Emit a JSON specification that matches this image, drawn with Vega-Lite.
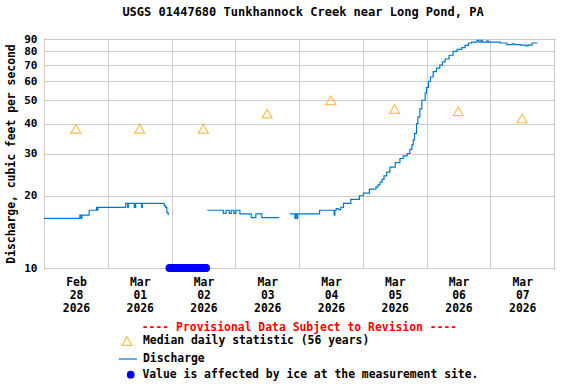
{
  "$schema": "https://vega.github.io/schema/vega-lite/v6.json",
  "width": 510,
  "height": 229,
  "autosize": {"type": "none"},
  "padding": {"left": 44, "top": 39, "right": 22, "bottom": 116},
  "background": "white",
  "title": {
    "text": "USGS 01447680 Tunkhannock Creek near Long Pond, PA",
    "font": "DejaVu Sans Mono",
    "fontSize": 12,
    "fontWeight": "bold",
    "color": "black",
    "anchor": "middle",
    "frame": "group",
    "offset": 14,
    "dx": 4
  },
  "config": {
    "view": {"stroke": "black", "strokeWidth": 1},
    "axis": {
      "labelFont": "DejaVu Sans Mono",
      "labelFontWeight": "bold",
      "labelFontSize": 11.4,
      "labelColor": "black",
      "titleFont": "DejaVu Sans Mono",
      "titleFontWeight": "bold",
      "titleFontSize": 11.4,
      "titleColor": "black",
      "gridColor": "#cccccc",
      "gridWidth": 1,
      "gridOpacity": 1,
      "domain": false,
      "ticks": false
    },
    "legend": {
      "labelFont": "DejaVu Sans Mono",
      "labelFontWeight": "bold",
      "labelFontSize": 11.4,
      "labelColor": "black",
      "labelLimit": 600,
      "padding": 0
    }
  },
  "datasets": {
    "median": [
      {"t": "2026-02-28T12:00", "v": 38},
      {"t": "2026-03-01T12:00", "v": 38},
      {"t": "2026-03-02T12:00", "v": 38},
      {"t": "2026-03-03T12:00", "v": 44},
      {"t": "2026-03-04T12:00", "v": 50},
      {"t": "2026-03-05T12:00", "v": 46},
      {"t": "2026-03-06T12:00", "v": 45},
      {"t": "2026-03-07T12:00", "v": 42}
    ],
    "discharge": [
      {"seg": "a", "t": "2026-02-28T00:00", "v": 16.1},
      {"seg": "a", "t": "2026-02-28T13:30", "v": 16.6},
      {"seg": "a", "t": "2026-02-28T14:00", "v": 16.1},
      {"seg": "a", "t": "2026-02-28T14:15", "v": 16.6},
      {"seg": "a", "t": "2026-02-28T17:00", "v": 17.4},
      {"seg": "a", "t": "2026-02-28T19:45", "v": 17.9},
      {"seg": "a", "t": "2026-02-28T20:00", "v": 17.4},
      {"seg": "a", "t": "2026-02-28T20:15", "v": 17.9},
      {"seg": "a", "t": "2026-03-01T06:45", "v": 18.6},
      {"seg": "a", "t": "2026-03-01T07:30", "v": 17.9},
      {"seg": "a", "t": "2026-03-01T07:45", "v": 18.6},
      {"seg": "a", "t": "2026-03-01T10:00", "v": 17.9},
      {"seg": "a", "t": "2026-03-01T10:30", "v": 18.6},
      {"seg": "a", "t": "2026-03-01T12:45", "v": 17.9},
      {"seg": "a", "t": "2026-03-01T13:00", "v": 18.6},
      {"seg": "a", "t": "2026-03-01T21:15", "v": 18.2},
      {"seg": "a", "t": "2026-03-01T21:45", "v": 17.9},
      {"seg": "a", "t": "2026-03-01T22:15", "v": 17.0},
      {"seg": "a", "t": "2026-03-01T22:45", "v": 16.6},
      {"seg": "b", "t": "2026-03-02T13:30", "v": 17.4},
      {"seg": "b", "t": "2026-03-02T19:30", "v": 16.9},
      {"seg": "b", "t": "2026-03-02T20:30", "v": 17.4},
      {"seg": "b", "t": "2026-03-02T21:45", "v": 16.9},
      {"seg": "b", "t": "2026-03-02T22:30", "v": 17.4},
      {"seg": "b", "t": "2026-03-02T23:30", "v": 16.9},
      {"seg": "b", "t": "2026-03-03T00:15", "v": 17.4},
      {"seg": "b", "t": "2026-03-03T01:45", "v": 16.8},
      {"seg": "b", "t": "2026-03-03T06:00", "v": 16.2},
      {"seg": "b", "t": "2026-03-03T07:45", "v": 16.8},
      {"seg": "b", "t": "2026-03-03T10:00", "v": 16.2},
      {"seg": "b", "t": "2026-03-03T16:30", "v": 16.2},
      {"seg": "c", "t": "2026-03-03T20:30", "v": 16.8},
      {"seg": "c", "t": "2026-03-03T22:30", "v": 16.1},
      {"seg": "c", "t": "2026-03-03T22:45", "v": 16.8},
      {"seg": "c", "t": "2026-03-03T23:15", "v": 16.1},
      {"seg": "c", "t": "2026-03-03T23:30", "v": 16.8},
      {"seg": "c", "t": "2026-03-04T07:45", "v": 17.4},
      {"seg": "c", "t": "2026-03-04T13:15", "v": 16.6},
      {"seg": "c", "t": "2026-03-04T13:30", "v": 17.4},
      {"seg": "c", "t": "2026-03-04T14:00", "v": 17.7},
      {"seg": "c", "t": "2026-03-04T14:45", "v": 17.5},
      {"seg": "c", "t": "2026-03-04T15:45", "v": 17.9},
      {"seg": "c", "t": "2026-03-04T16:45", "v": 18.6},
      {"seg": "c", "t": "2026-03-04T19:30", "v": 19.3},
      {"seg": "c", "t": "2026-03-04T22:45", "v": 20.0},
      {"seg": "c", "t": "2026-03-05T00:15", "v": 20.5},
      {"seg": "c", "t": "2026-03-05T02:30", "v": 21.3},
      {"seg": "c", "t": "2026-03-05T05:00", "v": 21.8},
      {"seg": "c", "t": "2026-03-05T05:45", "v": 22.2},
      {"seg": "c", "t": "2026-03-05T06:30", "v": 22.8},
      {"seg": "c", "t": "2026-03-05T07:15", "v": 23.4},
      {"seg": "c", "t": "2026-03-05T08:00", "v": 24.2},
      {"seg": "c", "t": "2026-03-05T09:00", "v": 25.1},
      {"seg": "c", "t": "2026-03-05T10:15", "v": 26.3},
      {"seg": "c", "t": "2026-03-05T12:15", "v": 27.5},
      {"seg": "c", "t": "2026-03-05T14:00", "v": 28.6},
      {"seg": "c", "t": "2026-03-05T15:15", "v": 29.3},
      {"seg": "c", "t": "2026-03-05T16:45", "v": 30.0},
      {"seg": "c", "t": "2026-03-05T17:45", "v": 31.2},
      {"seg": "c", "t": "2026-03-05T18:30", "v": 32.6},
      {"seg": "c", "t": "2026-03-05T19:00", "v": 34.2},
      {"seg": "c", "t": "2026-03-05T19:30", "v": 36.4},
      {"seg": "c", "t": "2026-03-05T20:15", "v": 40.0},
      {"seg": "c", "t": "2026-03-05T20:45", "v": 42.6},
      {"seg": "c", "t": "2026-03-05T21:30", "v": 46.0},
      {"seg": "c", "t": "2026-03-05T22:15", "v": 50.0},
      {"seg": "c", "t": "2026-03-05T23:30", "v": 53.5},
      {"seg": "c", "t": "2026-03-06T00:00", "v": 56.5},
      {"seg": "c", "t": "2026-03-06T00:45", "v": 60.0},
      {"seg": "c", "t": "2026-03-06T01:30", "v": 62.5},
      {"seg": "c", "t": "2026-03-06T02:30", "v": 65.8},
      {"seg": "c", "t": "2026-03-06T03:45", "v": 68.0},
      {"seg": "c", "t": "2026-03-06T05:00", "v": 70.0},
      {"seg": "c", "t": "2026-03-06T06:00", "v": 72.3},
      {"seg": "c", "t": "2026-03-06T07:00", "v": 74.3},
      {"seg": "c", "t": "2026-03-06T08:30", "v": 77.0},
      {"seg": "c", "t": "2026-03-06T10:00", "v": 80.0},
      {"seg": "c", "t": "2026-03-06T11:30", "v": 81.5},
      {"seg": "c", "t": "2026-03-06T13:15", "v": 82.8},
      {"seg": "c", "t": "2026-03-06T14:30", "v": 84.6},
      {"seg": "c", "t": "2026-03-06T15:45", "v": 86.6},
      {"seg": "c", "t": "2026-03-06T17:00", "v": 87.3},
      {"seg": "c", "t": "2026-03-06T19:00", "v": 88.8},
      {"seg": "c", "t": "2026-03-06T19:45", "v": 87.3},
      {"seg": "c", "t": "2026-03-06T20:30", "v": 88.8},
      {"seg": "c", "t": "2026-03-06T21:00", "v": 87.3},
      {"seg": "c", "t": "2026-03-06T22:45", "v": 88.5},
      {"seg": "c", "t": "2026-03-06T23:15", "v": 87.3},
      {"seg": "c", "t": "2026-03-07T03:45", "v": 86.6},
      {"seg": "c", "t": "2026-03-07T06:15", "v": 85.2},
      {"seg": "c", "t": "2026-03-07T08:15", "v": 85.9},
      {"seg": "c", "t": "2026-03-07T09:00", "v": 85.2},
      {"seg": "c", "t": "2026-03-07T11:15", "v": 84.9},
      {"seg": "c", "t": "2026-03-07T13:30", "v": 84.3},
      {"seg": "c", "t": "2026-03-07T14:15", "v": 84.9},
      {"seg": "c", "t": "2026-03-07T15:45", "v": 86.6},
      {"seg": "c", "t": "2026-03-07T17:45", "v": 86.6}
    ],
    "ice": [
      {"t": "2026-03-01T23:15", "v": 10},
      {"t": "2026-03-01T23:45", "v": 10},
      {"t": "2026-03-02T00:15", "v": 10},
      {"t": "2026-03-02T00:45", "v": 10},
      {"t": "2026-03-02T01:15", "v": 10},
      {"t": "2026-03-02T01:45", "v": 10},
      {"t": "2026-03-02T02:15", "v": 10},
      {"t": "2026-03-02T02:45", "v": 10},
      {"t": "2026-03-02T03:15", "v": 10},
      {"t": "2026-03-02T03:45", "v": 10},
      {"t": "2026-03-02T04:15", "v": 10},
      {"t": "2026-03-02T04:45", "v": 10},
      {"t": "2026-03-02T05:15", "v": 10},
      {"t": "2026-03-02T05:45", "v": 10},
      {"t": "2026-03-02T06:15", "v": 10},
      {"t": "2026-03-02T06:45", "v": 10},
      {"t": "2026-03-02T07:15", "v": 10},
      {"t": "2026-03-02T07:45", "v": 10},
      {"t": "2026-03-02T08:15", "v": 10},
      {"t": "2026-03-02T08:45", "v": 10},
      {"t": "2026-03-02T09:15", "v": 10},
      {"t": "2026-03-02T09:45", "v": 10},
      {"t": "2026-03-02T10:15", "v": 10},
      {"t": "2026-03-02T10:45", "v": 10},
      {"t": "2026-03-02T11:15", "v": 10},
      {"t": "2026-03-02T11:45", "v": 10},
      {"t": "2026-03-02T12:15", "v": 10},
      {"t": "2026-03-02T12:45", "v": 10},
      {"t": "2026-03-02T13:00", "v": 10}
    ]
  },
  "layer": [
    {
      "data": {"name": "discharge"},
      "mark": {"type": "line", "interpolate": "step-after", "strokeWidth": 1.2},
      "encoding": {
        "x": {
          "field": "t",
          "type": "temporal",
          "scale": {
            "domain": [
              {"year": 2026, "month": 2, "date": 28},
              {"year": 2026, "month": 3, "date": 8}
            ]
          },
          "axis": {
            "values": [
              {"year": 2026, "month": 2, "date": 28},
              {"year": 2026, "month": 3, "date": 1},
              {"year": 2026, "month": 3, "date": 2},
              {"year": 2026, "month": 3, "date": 3},
              {"year": 2026, "month": 3, "date": 4},
              {"year": 2026, "month": 3, "date": 5},
              {"year": 2026, "month": 3, "date": 6},
              {"year": 2026, "month": 3, "date": 7},
              {"year": 2026, "month": 3, "date": 8}
            ],
            "grid": true,
            "labelOffset": 32,
            "labelFlush": false,
            "labelOverlap": false,
            "labelBound": false,
            "labelPadding": 8,
            "labelLineHeight": 13,
            "labelExpr": "(month(datum.value) == 2 && date(datum.value) == 8) ? '' : [timeFormat(datum.value, '%b'), timeFormat(datum.value, '%d'), timeFormat(datum.value, '%Y')]",
            "title": "---- Provisional Data Subject to Revision ----",
            "titleColor": "#ff0000",
            "titlePadding": 8
          }
        },
        "y": {
          "field": "v",
          "type": "quantitative",
          "scale": {"type": "log", "domain": [10, 90], "nice": false},
          "axis": {
            "values": [10, 20, 30, 40, 50, 60, 70, 80, 90],
            "format": "d",
            "grid": true,
            "labelFontSize": 11,
            "labelPadding": 7,
            "title": "Discharge, cubic feet per second",
            "titlePadding": 7
          }
        },
        "detail": {"field": "seg"},
        "color": {
          "datum": "Discharge",
          "scale": {"range": ["#0077cc"]},
          "legend": {
            "title": null,
            "orient": "none",
            "legendX": 74,
            "legendY": 310,
            "symbolType": "stroke",
            "symbolSize": 324,
            "symbolStrokeWidth": 1.2,
            "labelOffset": 5
          }
        }
      }
    },
    {
      "data": {"name": "median"},
      "mark": {"type": "point", "shape": "triangle-up", "filled": false, "size": 100, "strokeWidth": 1.2},
      "encoding": {
        "x": {"field": "t", "type": "temporal"},
        "y": {"field": "v", "type": "quantitative"},
        "color": {
          "datum": "Median daily statistic (56 years)",
          "scale": {"range": ["#ffa500"]},
          "legend": {
            "title": null,
            "orient": "none",
            "legendX": 77,
            "legendY": 296,
            "symbolType": "triangle-up",
            "symbolSize": 100,
            "symbolStrokeWidth": 1.2,
            "labelOffset": 10
          }
        }
      }
    },
    {
      "data": {"name": "ice"},
      "mark": {"type": "point", "shape": "circle", "filled": true, "size": 64, "opacity": 1},
      "encoding": {
        "x": {"field": "t", "type": "temporal"},
        "y": {"field": "v", "type": "quantitative"},
        "color": {
          "datum": "Value is affected by ice at the measurement site.",
          "scale": {"range": ["#0000ff"]},
          "legend": {
            "title": null,
            "orient": "none",
            "legendX": 81,
            "legendY": 330,
            "symbolType": "circle",
            "symbolSize": 60,
            "symbolOpacity": 1,
            "labelOffset": 6
          }
        }
      }
    }
  ],
  "resolve": {"scale": {"color": "independent"}}
}
